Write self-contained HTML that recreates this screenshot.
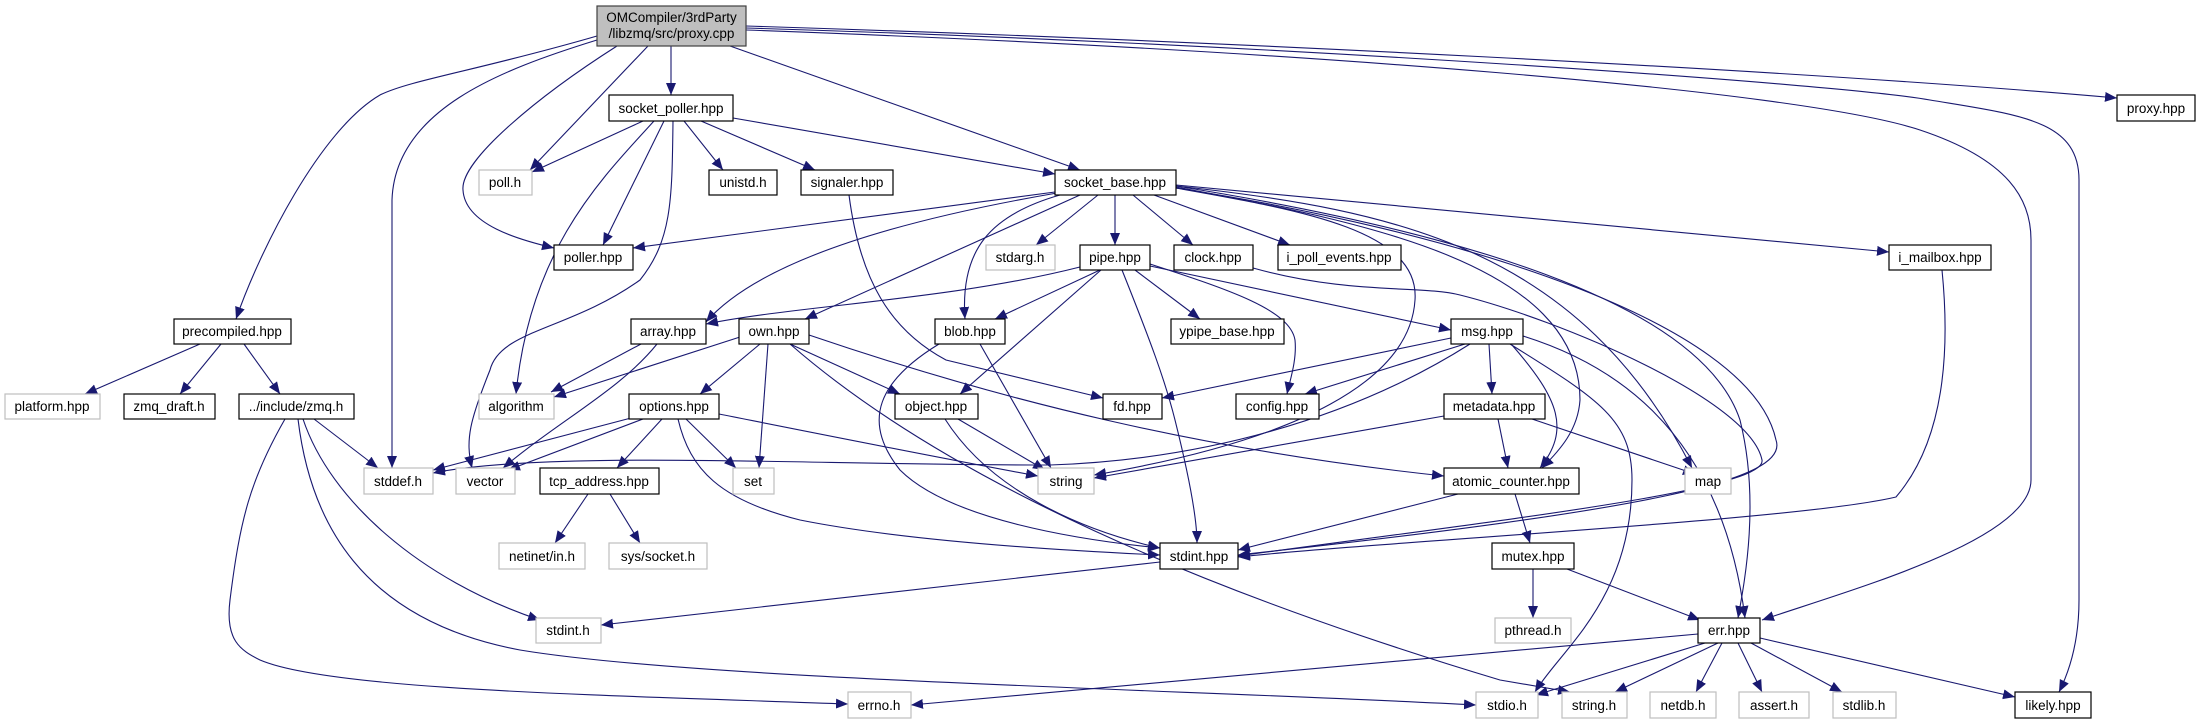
<!DOCTYPE html>
<html><head><meta charset="utf-8"><style>
html,body{margin:0;padding:0;background:#fff;width:2205px;height:724px;overflow:hidden}
svg text{font-family:"Liberation Sans",sans-serif;font-size:13.5px;fill:#000}
</style></head><body>
<svg width="2205" height="724" viewBox="0 0 2205 724" xmlns="http://www.w3.org/2000/svg">
<defs><marker id="a" markerUnits="userSpaceOnUse" markerWidth="13" markerHeight="11" refX="12" refY="5" orient="auto"><path d="M0,0 L12,5 L0,10 z" fill="#191970"/></marker></defs>
<g fill="none" stroke="#191970" stroke-width="1.1" marker-end="url(#a)">
<path d="M671,46 L671,95"/>
<path d="M648,46 L530,170"/>
<path d="M617,46 C540,95 460,160 463,190 C465,225 520,240 554,248"/>
<path d="M597,40 C500,70 395,110 392,200 L392,468"/>
<path d="M597,36 C480,70 410,80 380,95 C320,130 260,250 236,319"/>
<path d="M730,46 L1080,170"/>
<path d="M746,26 C1200,40 1800,70 2117,98"/>
<path d="M746,30 C1300,50 1800,90 1920,130 C2010,160 2031,200 2031,240 L2031,480 C2031,540 1850,590 1762,620"/>
<path d="M746,28 C1300,45 1850,85 1930,100 C2020,115 2079,120 2079,180 L2079,600 C2079,640 2070,670 2059,692"/>
<path d="M643,121 L532,172"/>
<path d="M664,121 L603,245"/>
<path d="M684,121 L723,170"/>
<path d="M701,121 L815,170"/>
<path d="M733,118 L1055,174"/>
<path d="M654,121 C600,180 530,250 516,394"/>
<path d="M673,121 C672,200 672,240 640,280 C570,330 500,330 490,370 C470,420 465,440 472,468"/>
<path d="M200,344 L85,394"/>
<path d="M221,344 L180,394"/>
<path d="M244,344 L280,394"/>
<path d="M314,419 L378,468"/>
<path d="M303,419 C330,500 420,580 540,620"/>
<path d="M285,419 C250,480 240,520 230,600 C225,640 240,650 260,660 C330,690 600,695 848,704"/>
<path d="M298,419 C310,520 360,620 520,650 C700,680 1200,690 1476,705"/>
<path d="M1055,192 L633,248"/>
<path d="M1057,193 C900,220 760,260 706,322"/>
<path d="M1080,195 L805,319"/>
<path d="M1060,195 C990,215 960,250 965,319"/>
<path d="M1098,195 L1036,245"/>
<path d="M1115,195 L1115,245"/>
<path d="M1133,195 L1193,245"/>
<path d="M1154,195 L1290,245"/>
<path d="M1176,185 L1889,252"/>
<path d="M1176,188 C1300,210 1420,230 1415,300 C1410,380 1300,440 1094,475"/>
<path d="M1176,186 C1400,210 1580,250 1692,468"/>
<path d="M1176,187 C1350,220 1580,260 1580,400 C1578,430 1560,450 1542,468"/>
<path d="M1176,188 C1450,230 1750,320 1776,440 C1790,480 1650,510 1238,555"/>
<path d="M1176,186 C1450,230 1700,300 1740,420 C1760,500 1745,580 1738,618"/>
<path d="M849,195 C860,280 890,330 946,360 L1103,398"/>
<path d="M1080,267 C950,300 800,305 706,324"/>
<path d="M1100,270 L995,319"/>
<path d="M1101,270 L960,394"/>
<path d="M1122,270 C1150,340 1165,380 1175,420 C1190,480 1197,520 1197,543"/>
<path d="M1135,270 L1200,319"/>
<path d="M1150,264 C1230,290 1290,310 1295,340 C1297,360 1290,380 1287,394"/>
<path d="M1150,266 L1451,330"/>
<path d="M1253,268 C1350,295 1420,285 1460,295 C1560,320 1750,400 1762,460 C1768,490 1500,520 1238,556"/>
<path d="M1942,270 C1950,350 1945,440 1896,497 C1800,520 1400,540 1238,557"/>
<path d="M740,337 L554,397"/>
<path d="M760,344 L700,394"/>
<path d="M768,344 L759,468"/>
<path d="M790,344 L900,394"/>
<path d="M809,335 C1000,400 1200,450 1444,476"/>
<path d="M790,344 C900,440 1100,560 1500,680 L1570,692"/>
<path d="M939,344 C880,380 860,420 900,470 C950,520 1080,540 1160,548"/>
<path d="M980,344 L1051,468"/>
<path d="M631,418 L433,470"/>
<path d="M643,419 L508,470"/>
<path d="M662,419 L617,468"/>
<path d="M686,419 L736,468"/>
<path d="M719,414 C850,440 950,460 1038,476"/>
<path d="M678,419 C690,470 720,500 800,520 C900,540 1050,550 1160,555"/>
<path d="M1470,344 C1350,420 1200,460 1050,465 C800,465 550,450 433,473"/>
<path d="M1451,338 L1162,398"/>
<path d="M1465,344 L1305,394"/>
<path d="M1489,344 L1492,394"/>
<path d="M1512,345 C1560,400 1570,430 1540,468"/>
<path d="M1523,336 C1600,360 1720,420 1745,618"/>
<path d="M1510,344 C1600,400 1632,420 1632,480 C1632,600 1560,650 1535,692"/>
<path d="M1444,416 L1094,478"/>
<path d="M1498,419 L1508,468"/>
<path d="M1532,419 L1695,474"/>
<path d="M1458,494 L1238,550"/>
<path d="M1515,494 L1530,543"/>
<path d="M1533,569 L1533,618"/>
<path d="M1567,569 L1700,620"/>
<path d="M1160,562 L601,625"/>
<path d="M588,494 L555,543"/>
<path d="M610,494 L640,543"/>
<path d="M641,344 L551,392"/>
<path d="M657,344 C620,390 560,420 503,468"/>
<path d="M958,419 L1045,470"/>
<path d="M945,419 C990,490 1080,530 1160,548"/>
<path d="M1698,634 L911,705"/>
<path d="M1705,643 L1536,695"/>
<path d="M1718,643 L1615,692"/>
<path d="M1722,643 L1696,692"/>
<path d="M1738,643 L1762,692"/>
<path d="M1751,643 L1842,692"/>
<path d="M1760,638 L2015,697"/>
</g>
<g stroke-width="1.2">
<rect x="597" y="6" width="149" height="40" fill="#bfbfbf" stroke="#404040"/>
<text x="671.5" y="22" text-anchor="middle">OMCompiler/3rdParty</text>
<text x="671.5" y="38" text-anchor="middle">/libzmq/src/proxy.cpp</text>
<g fill="#fff" stroke="#000">
<rect x="609" y="95" width="124" height="26"/>
<rect x="709" y="170" width="68" height="25"/>
<rect x="801" y="170" width="92" height="25"/>
<rect x="1055" y="170" width="121" height="25"/>
<rect x="554" y="245" width="79" height="25"/>
<rect x="1080" y="245" width="70" height="25"/>
<rect x="1174" y="245" width="79" height="25"/>
<rect x="1278" y="245" width="123" height="25"/>
<rect x="1889" y="245" width="102" height="25"/>
<rect x="2117" y="95" width="78" height="26"/>
<rect x="174" y="319" width="117" height="25"/>
<rect x="631" y="319" width="75" height="25"/>
<rect x="739" y="319" width="70" height="25"/>
<rect x="935" y="319" width="70" height="25"/>
<rect x="1171" y="319" width="113" height="25"/>
<rect x="1451" y="319" width="72" height="25"/>
<rect x="124" y="394" width="91" height="25"/>
<rect x="239" y="394" width="115" height="25"/>
<rect x="629" y="394" width="90" height="25"/>
<rect x="895" y="394" width="83" height="25"/>
<rect x="1103" y="394" width="59" height="25"/>
<rect x="1236" y="394" width="83" height="25"/>
<rect x="1444" y="394" width="101" height="25"/>
<rect x="540" y="468" width="119" height="26"/>
<rect x="1444" y="468" width="135" height="26"/>
<rect x="1160" y="543" width="78" height="26"/>
<rect x="1492" y="543" width="82" height="26"/>
<rect x="1698" y="618" width="62" height="25"/>
<rect x="2015" y="692" width="76" height="26"/>
</g>
<g fill="#fff" stroke="#bfbfbf">
<rect x="479" y="170" width="53" height="25"/>
<rect x="986" y="245" width="69" height="25"/>
<rect x="5" y="394" width="95" height="25"/>
<rect x="479" y="394" width="75" height="25"/>
<rect x="364" y="468" width="69" height="26"/>
<rect x="456" y="468" width="59" height="26"/>
<rect x="733" y="468" width="41" height="26"/>
<rect x="1038" y="468" width="56" height="26"/>
<rect x="1685" y="468" width="46" height="26"/>
<rect x="499" y="543" width="86" height="26"/>
<rect x="609" y="543" width="98" height="26"/>
<rect x="536" y="618" width="65" height="25"/>
<rect x="1495" y="618" width="76" height="25"/>
<rect x="848" y="692" width="63" height="26"/>
<rect x="1476" y="692" width="62" height="26"/>
<rect x="1562" y="692" width="65" height="26"/>
<rect x="1650" y="692" width="66" height="26"/>
<rect x="1739" y="692" width="70" height="26"/>
<rect x="1833" y="692" width="63" height="26"/>
</g>
</g>
<g text-anchor="middle">
<text x="671" y="113">socket_poller.hpp</text>
<text x="743" y="187">unistd.h</text>
<text x="847" y="187">signaler.hpp</text>
<text x="1115" y="187">socket_base.hpp</text>
<text x="593" y="262">poller.hpp</text>
<text x="1115" y="262">pipe.hpp</text>
<text x="1213" y="262">clock.hpp</text>
<text x="1339" y="262">i_poll_events.hpp</text>
<text x="1940" y="262">i_mailbox.hpp</text>
<text x="2156" y="113">proxy.hpp</text>
<text x="232" y="336">precompiled.hpp</text>
<text x="668" y="336">array.hpp</text>
<text x="774" y="336">own.hpp</text>
<text x="970" y="336">blob.hpp</text>
<text x="1227" y="336">ypipe_base.hpp</text>
<text x="1487" y="336">msg.hpp</text>
<text x="169" y="411">zmq_draft.h</text>
<text x="296" y="411">../include/zmq.h</text>
<text x="674" y="411">options.hpp</text>
<text x="936" y="411">object.hpp</text>
<text x="1132" y="411">fd.hpp</text>
<text x="1277" y="411">config.hpp</text>
<text x="1494" y="411">metadata.hpp</text>
<text x="599" y="486">tcp_address.hpp</text>
<text x="1511" y="486">atomic_counter.hpp</text>
<text x="1199" y="561">stdint.hpp</text>
<text x="1533" y="561">mutex.hpp</text>
<text x="1729" y="635">err.hpp</text>
<text x="2053" y="710">likely.hpp</text>
<text x="505" y="187">poll.h</text>
<text x="1020" y="262">stdarg.h</text>
<text x="52" y="411">platform.hpp</text>
<text x="516" y="411">algorithm</text>
<text x="398" y="486">stddef.h</text>
<text x="485" y="486">vector</text>
<text x="753" y="486">set</text>
<text x="1066" y="486">string</text>
<text x="1708" y="486">map</text>
<text x="542" y="561">netinet/in.h</text>
<text x="658" y="561">sys/socket.h</text>
<text x="568" y="635">stdint.h</text>
<text x="1533" y="635">pthread.h</text>
<text x="879" y="710">errno.h</text>
<text x="1507" y="710">stdio.h</text>
<text x="1594" y="710">string.h</text>
<text x="1683" y="710">netdb.h</text>
<text x="1774" y="710">assert.h</text>
<text x="1864" y="710">stdlib.h</text>
</g>
</svg>
</body></html>
